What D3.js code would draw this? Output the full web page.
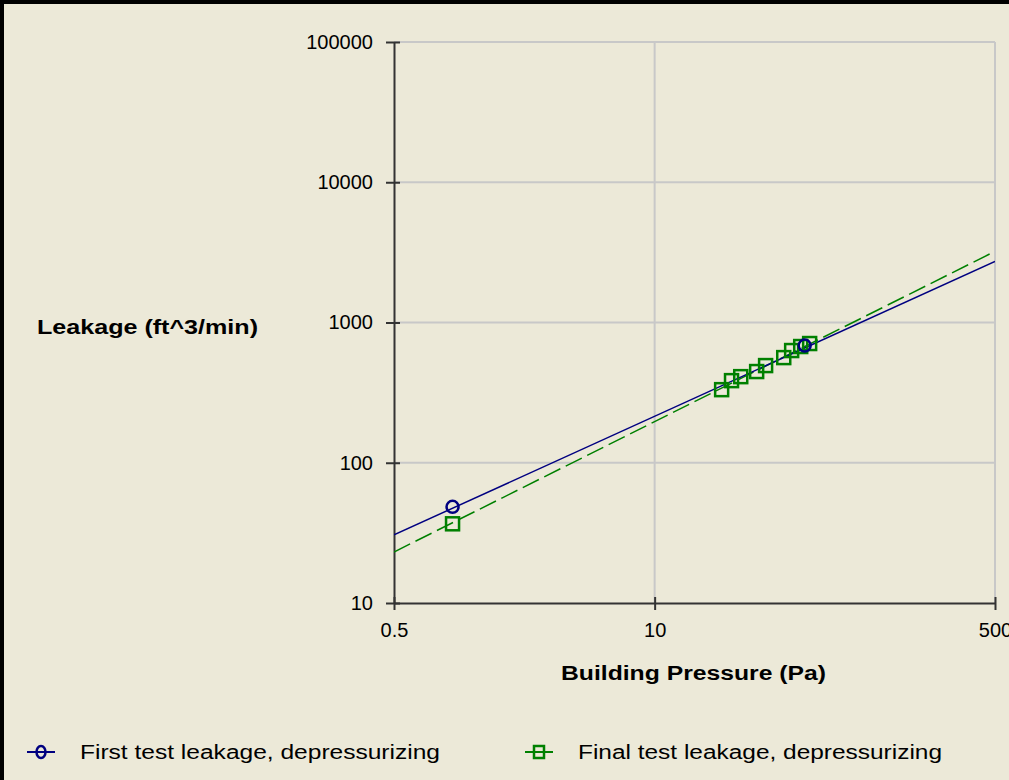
<!DOCTYPE html>
<html>
<head>
<meta charset="utf-8">
<script src="https://cdn.jsdelivr.net/npm/d3@7"></script>
<style>
  html, body { margin: 0; padding: 0; background: #ece9d8; }
  svg { display: block; }
  text { font-family: "Liberation Sans", Arial, sans-serif; fill: #000; }
</style>
</head>
<body>
<svg id="chart" width="1009" height="780"></svg>
<script>
// Leakage test results.
var xTicks = [0.5, 10, 500];
var yTicks = [10, 100, 1000, 10000, 100000];

// First test (depressurizing): measured points
var firstPressure = [0.98, 56.1];
var firstLeakage = [48.5, 685];

// Final test (depressurizing): measured points
var finalPressure = [0.98, 21.6, 24.2, 26.9, 32.3, 35.8, 44.1, 48.3, 53.6, 59.4];
var finalLeakage = [36.7, 332, 385, 411, 447, 493, 562, 631, 674, 708];

// Fitted lines, end points at the edges of the plot
var firstFitPressure = [0.5, 500];
var firstFitLeakage = [30.6, 2730];
var finalFitPressure = [0.5, 500];
var finalFitLeakage = [23.1, 3216];

var seriesNames = ['First test leakage, depressurizing', 'Final test leakage, depressurizing'];
var seriesColors = ['#000080', '#008000'];

var svg = d3.select('#chart');
var margin = { left: 394, right: 995, top: 42, bottom: 603 };

var x = d3.scaleLog().domain([0.5, 500]).range([margin.left, margin.right]);
var y = d3.scaleLog().domain([10, 100000]).range([margin.bottom, margin.top]);

// Window frame: thick black edge on top and left
svg.append('rect').attr('x', 0).attr('y', 0).attr('width', 1009).attr('height', 4).attr('fill', '#000');
svg.append('rect').attr('x', 0).attr('y', 0).attr('width', 4).attr('height', 780).attr('fill', '#000');

// Grid lines
var grid = svg.append('g').attr('class', 'grid');
grid.selectAll('line.gx')
  .data(xTicks.slice(1))
  .enter().append('line')
    .attr('x1', function(d) { return x(d); })
    .attr('x2', function(d) { return x(d); })
    .attr('y1', margin.top)
    .attr('y2', margin.bottom)
    .attr('stroke', '#c8c8c8')
    .attr('stroke-width', 2);
grid.selectAll('line.gy')
  .data(yTicks.slice(1))
  .enter().append('line')
    .attr('x1', margin.left)
    .attr('x2', margin.right)
    .attr('y1', function(d) { return y(d); })
    .attr('y2', function(d) { return y(d); })
    .attr('stroke', '#c8c8c8')
    .attr('stroke-width', 2);

// Axes
var yAxis = d3.axisLeft(y)
  .tickValues(yTicks)
  .tickFormat(d3.format('d'))
  .tickSizeInner(8)
  .tickSizeOuter(0)
  .tickPadding(13);
var gy = svg.append('g')
  .attr('transform', 'translate(' + margin.left + ',0)')
  .call(yAxis);

var xAxis = d3.axisBottom(x)
  .tickValues(xTicks)
  .tickFormat(function(d) { return String(d); })
  .tickSizeInner(7)
  .tickSizeOuter(0)
  .tickPadding(13);
var gx = svg.append('g')
  .attr('transform', 'translate(0,' + margin.bottom + ')')
  .call(xAxis);

[gx, gy].forEach(function(g) {
  g.select('.domain').attr('stroke', '#333').attr('stroke-width', 2);
  g.selectAll('.tick line').attr('stroke', '#333').attr('stroke-width', 2);
  g.selectAll('.tick text')
    .attr('font-size', 20)
    .attr('font-family', '"Liberation Sans", Arial, sans-serif')
    .attr('fill', '#111');
});
// ticks poke a little past the axis too
gy.selectAll('.tick line').attr('x1', 6);
gx.selectAll('.tick line').attr('y1', -6);

// Axis titles (the original font is wider than Arial, so stretch to fit)
svg.append('text')
  .attr('x', 37)
  .attr('y', 327)
  .attr('dominant-baseline', 'central')
  .attr('font-size', 20)
  .attr('font-weight', 'bold')
  .attr('textLength', 221)
  .attr('lengthAdjust', 'spacingAndGlyphs')
  .text('Leakage (ft^3/min)');

svg.append('text')
  .attr('x', 561)
  .attr('y', 673)
  .attr('dominant-baseline', 'central')
  .attr('font-size', 20)
  .attr('font-weight', 'bold')
  .attr('textLength', 265)
  .attr('lengthAdjust', 'spacingAndGlyphs')
  .text('Building Pressure (Pa)');

// Clip for the fit lines
svg.append('clipPath').attr('id', 'plot-clip')
  .append('rect')
    .attr('x', margin.left)
    .attr('y', margin.top)
    .attr('width', margin.right - margin.left)
    .attr('height', margin.bottom - margin.top);

var line = d3.line()
  .x(function(d) { return x(d[0]); })
  .y(function(d) { return y(d[1]); });

var firstFit = d3.zip(firstFitPressure, firstFitLeakage);
var finalFit = d3.zip(finalFitPressure, finalFitLeakage);

svg.append('path')
  .datum(finalFit)
  .attr('clip-path', 'url(#plot-clip)')
  .attr('d', line)
  .attr('fill', 'none')
  .attr('stroke', seriesColors[1])
  .attr('stroke-width', 1.5)
  .attr('stroke-dasharray', '18,6');

svg.append('path')
  .datum(firstFit)
  .attr('clip-path', 'url(#plot-clip)')
  .attr('d', line)
  .attr('fill', 'none')
  .attr('stroke', seriesColors[0])
  .attr('stroke-width', 1.5);

// Points
var sq = 13;
svg.append('g').selectAll('rect')
  .data(d3.zip(finalPressure, finalLeakage))
  .enter().append('rect')
    .attr('x', function(d) { return x(d[0]) - sq / 2; })
    .attr('y', function(d) { return y(d[1]) - sq / 2; })
    .attr('width', sq)
    .attr('height', sq)
    .attr('fill', 'none')
    .attr('stroke', seriesColors[1])
    .attr('stroke-width', 2.5);

svg.append('g').selectAll('circle')
  .data(d3.zip(firstPressure, firstLeakage))
  .enter().append('circle')
    .attr('cx', function(d) { return x(d[0]); })
    .attr('cy', function(d) { return y(d[1]); })
    .attr('r', 6)
    .attr('fill', 'none')
    .attr('stroke', seriesColors[0])
    .attr('stroke-width', 2.5);

// Legend
var legendX = [27, 525];
var legendWidth = [360, 364];
var legend = svg.append('g').selectAll('g')
  .data(seriesNames)
  .enter().append('g')
    .attr('transform', function(d, i) { return 'translate(' + legendX[i] + ',752)'; });

legend.append('line')
  .attr('x1', 0).attr('x2', 28)
  .attr('y1', 0).attr('y2', 0)
  .attr('stroke', function(d, i) { return seriesColors[i]; })
  .attr('stroke-width', 2);

legend.each(function(d, i) {
  var g = d3.select(this);
  if (i === 0) {
    g.append('ellipse').attr('cx', 14).attr('cy', 0).attr('rx', 4.5).attr('ry', 6)
      .attr('fill', 'none').attr('stroke', seriesColors[0]).attr('stroke-width', 2.5);
  } else {
    g.append('rect').attr('x', 9).attr('y', -6).attr('width', 10).attr('height', 12)
      .attr('fill', 'none').attr('stroke', seriesColors[1]).attr('stroke-width', 2.5);
  }
});

legend.append('text')
  .attr('x', 53)
  .attr('y', 0)
  .attr('dominant-baseline', 'central')
  .attr('font-size', 20)
  .attr('fill', '#111')
  .attr('textLength', function(d, i) { return legendWidth[i]; })
  .attr('lengthAdjust', 'spacingAndGlyphs')
  .text(function(d) { return d; });
</script>
</body>
</html>
